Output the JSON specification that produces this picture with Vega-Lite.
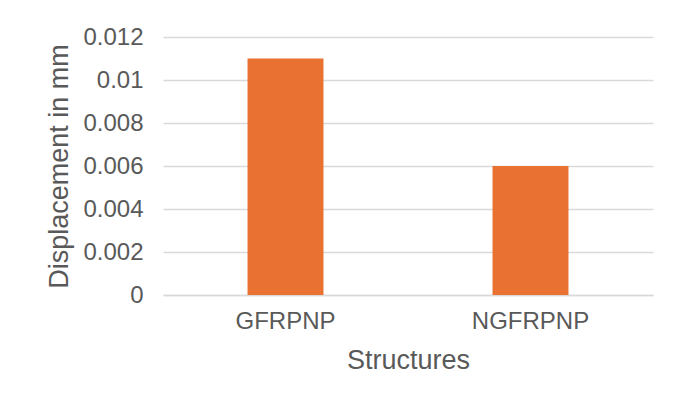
{
  "$schema": "https://vega.github.io/schema/vega-lite/v6.json",
  "autosize": "none",
  "width": 490,
  "height": 258,
  "padding": {"left": 163, "top": 37, "right": 31, "bottom": 110},
  "background": "white",
  "config": {
    "view": {"stroke": null},
    "font": "Liberation Sans",
    "axis": {"labelColor": "#595959", "titleColor": "#595959", "labelFont": "Liberation Sans", "titleFont": "Liberation Sans", "titleFontWeight": "normal"}
  },
  "data": {
    "values": [
      {"structure": "GFRPNP", "displacement": 0.011},
      {"structure": "NGFRPNP", "displacement": 0.006}
    ]
  },
  "mark": {"type": "bar", "color": "#E97132"},
  "encoding": {
    "x": {
      "field": "structure",
      "type": "nominal",
      "sort": null,
      "scale": {"paddingInner": 0.69, "paddingOuter": 0.345},
      "axis": {
        "title": "Structures",
        "labelAngle": 0,
        "labelFontSize": 24,
        "titleFontSize": 27,
        "labelPadding": 14,
        "titlePadding": 14,
        "ticks": false,
        "domainColor": "#d9d9d9",
        "domainWidth": 1.5
      }
    },
    "y": {
      "field": "displacement",
      "type": "quantitative",
      "scale": {"domain": [0, 0.012], "nice": false},
      "axis": {
        "title": "Displacement in mm",
        "values": [0, 0.002, 0.004, 0.006, 0.008, 0.01, 0.012],
        "format": "~g",
        "labelFontSize": 24,
        "titleFontSize": 27,
        "labelPadding": 20,
        "titlePadding": 9,
        "ticks": false,
        "domain": false,
        "gridColor": "#d9d9d9",
        "gridWidth": 1.5
      }
    }
  }
}
